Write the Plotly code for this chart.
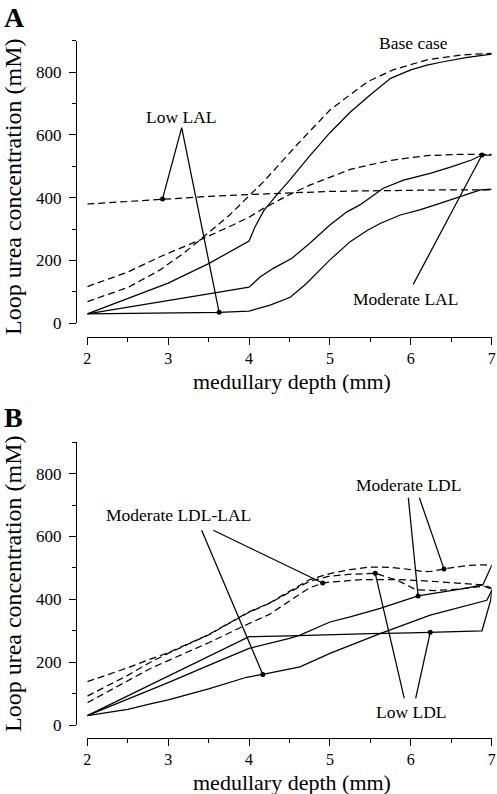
import plotly.graph_objects as go

# ---------------- Panel A data ----------------
a_base_solid_x = [2, 2.5, 3, 3.5, 3.76, 4.0, 4.07, 4.18, 4.34, 4.5, 4.75, 5.0, 5.25, 5.5, 5.75, 6.0, 6.2, 6.4, 6.7, 7.0]
a_base_solid_y = [30, 78, 128, 190, 228, 262, 305, 358, 408, 455, 533, 607, 672, 728, 780, 807, 822, 833, 847, 857]
a_base_dash_x = [2, 2.5, 2.9, 3.2, 3.39, 3.76, 4.0, 4.18, 4.59, 5.0, 5.25, 5.47, 5.78, 6.2, 6.61, 7.0]
a_base_dash_y = [69, 114, 170, 225, 265, 345, 406, 451, 568, 679, 728, 770, 807, 839, 854, 860]
a_mod_solid_x = [2, 2.5, 3, 3.5, 4.0, 4.14, 4.3, 4.53, 4.75, 5.0, 5.21, 5.37, 5.47, 5.66, 5.91, 6.0, 6.25, 6.5, 6.75, 6.88, 7.0]
a_mod_solid_y = [30, 52, 73, 94, 115, 148, 175, 207, 255, 313, 355, 377, 395, 430, 456, 462, 478, 498, 520, 536, 536]
a_mod_dash_x = [2, 2.5, 2.9, 3.39, 3.8, 4.0, 4.18, 4.5, 4.75, 5.0, 5.25, 5.5, 5.78, 6.2, 6.6, 7.0]
a_mod_dash_y = [117, 163, 212, 265, 313, 338, 366, 410, 440, 465, 490, 505, 520, 534, 538, 538]
a_low_solid_x = [2, 2.5, 3, 3.63, 4.0, 4.26, 4.51, 4.71, 5.0, 5.25, 5.47, 5.62, 5.87, 6.11, 6.36, 6.61, 6.86, 7.0]
a_low_solid_y = [30, 32, 33, 35, 39, 58, 83, 127, 202, 260, 297, 318, 345, 361, 382, 403, 425, 427]
a_low_dash_x = [2, 2.93, 3.5, 4.0, 4.5, 5.0, 5.5, 6.0, 6.5, 7.0]
a_low_dash_y = [380, 396, 404, 410, 416, 420, 422, 424, 425, 425]

# annotation leaders / dots (panel A)
a_dot_x = [2.93, 3.63, 6.88]
a_dot_y = [396, 35, 536]
a_lowlal_leader_x = [2.93, 3.167, 3.63]
a_lowlal_leader_y = [396, 623, 35]
a_modlal_leader_x = [6.03, 6.88]
a_modlal_leader_y = [124, 536]

# ---------------- Panel B data ----------------
b_lowldl_solid_x = [2, 2.5, 3, 3.5, 4.0, 4.5, 5.0, 5.5, 6.0, 6.24, 6.5, 6.88, 6.99, 7.0]
b_lowldl_solid_y = [30, 93, 156, 218, 281, 284, 288, 291, 293, 295, 297, 300, 400, 433]
b_modldl_solid_x = [2, 2.5, 2.78, 3, 3.5, 4.0, 4.5, 4.63, 5.0, 5.25, 5.62, 6.09, 6.65, 6.89, 7.0]
b_modldl_solid_y = [30, 82, 111, 135, 190, 244, 276, 286, 328, 344, 371, 411, 434, 446, 508]
b_ldllal_solid_x = [2, 2.5, 2.78, 3, 3.5, 3.97, 4.17, 4.63, 5.0, 5.25, 5.62, 6.24, 6.94, 7.0]
b_ldllal_solid_y = [30, 50, 67, 80, 115, 152, 161, 185, 228, 254, 291, 350, 397, 428]
b_modldl_dash_x = [2, 2.5, 2.78, 3, 3.5, 3.89, 4.0, 4.25, 4.5, 4.75, 5.0, 5.25, 5.5, 5.75, 6.0, 6.15, 6.25, 6.41, 6.7, 6.9, 7.0]
b_modldl_dash_y = [138, 182, 210, 230, 288, 344, 360, 388, 425, 463, 482, 495, 503, 502, 495, 488, 489, 497, 508, 510, 508]
b_lowldl_dash_x = [2, 2.5, 2.78, 3, 3.5, 3.89, 4.0, 4.25, 4.5, 4.75, 5.0, 5.25, 5.56, 5.83, 6.07, 6.3, 6.6, 6.9, 7.0]
b_lowldl_dash_y = [92, 158, 200, 228, 287, 343, 359, 387, 423, 458, 474, 480, 483, 461, 430, 428, 433, 442, 433]
b_ldllal_dash_x = [2, 2.5, 2.78, 3, 3.5, 4.0, 4.25, 4.5, 4.75, 4.92, 5.0, 5.41, 5.83, 6.24, 6.65, 6.9, 7.0]
b_ldllal_dash_y = [71, 140, 180, 205, 262, 323, 352, 395, 437, 452, 455, 463, 463, 458, 450, 446, 436]

b_dot_x = [4.17, 4.91, 6.09, 6.41, 5.56, 6.24]
b_dot_y = [161, 452, 411, 497, 483, 295]
b_ldllal_leader_x = [[3.414, 4.17], [3.558, 4.91]]
b_ldllal_leader_y = [[620, 161], [620, 452]]
b_modldl_leader_x = [[5.969, 6.09], [6.105, 6.41]]
b_modldl_leader_y = [[724, 411], [724, 497]]
b_lowldl_leader_x = [[5.919, 5.56], [6.06, 6.24]]
b_lowldl_leader_y = [[85, 483], [85, 295]]

x_ticks = [2, 3, 4, 5, 6, 7]
x_minor = [2.5, 3.5, 4.5, 5.5, 6.5]
y_ticks = [0, 200, 400, 600, 800]
y_minor = [100, 300, 500, 700, 900]

FONT = "Times New Roman, Liberation Serif, Tinos, DejaVu Serif, serif"
LW = 1.25
DASH = "7px,4px"

fig = go.Figure()

def add_line(x, y, dash, xa, ya):
    fig.add_trace(go.Scatter(x=x, y=y, mode="lines", xaxis=xa, yaxis=ya,
                             line=dict(color="black", width=LW, dash=dash),
                             hoverinfo="skip", showlegend=False, cliponaxis=False))

# Panel A
for xs, ys, d in [(a_base_solid_x, a_base_solid_y, "solid"), (a_base_dash_x, a_base_dash_y, DASH),
                  (a_mod_solid_x, a_mod_solid_y, "solid"), (a_mod_dash_x, a_mod_dash_y, DASH),
                  (a_low_solid_x, a_low_solid_y, "solid"), (a_low_dash_x, a_low_dash_y, DASH),
                  (a_lowlal_leader_x, a_lowlal_leader_y, "solid"), (a_modlal_leader_x, a_modlal_leader_y, "solid")]:
    add_line(xs, ys, d, "x", "y")
fig.add_trace(go.Scatter(x=a_dot_x, y=a_dot_y, mode="markers", xaxis="x", yaxis="y",
                         marker=dict(color="black", size=5), showlegend=False, hoverinfo="skip"))

# Panel B
for xs, ys, d in [(b_lowldl_solid_x, b_lowldl_solid_y, "solid"), (b_modldl_solid_x, b_modldl_solid_y, "solid"),
                  (b_ldllal_solid_x, b_ldllal_solid_y, "solid"), (b_modldl_dash_x, b_modldl_dash_y, DASH),
                  (b_lowldl_dash_x, b_lowldl_dash_y, DASH), (b_ldllal_dash_x, b_ldllal_dash_y, DASH)]:
    add_line(xs, ys, d, "x2", "y2")
for LX, LY in [(b_ldllal_leader_x, b_ldllal_leader_y), (b_modldl_leader_x, b_modldl_leader_y),
               (b_lowldl_leader_x, b_lowldl_leader_y)]:
    for xs, ys in zip(LX, LY):
        add_line(xs, ys, "solid", "x2", "y2")
fig.add_trace(go.Scatter(x=b_dot_x, y=b_dot_y, mode="markers", xaxis="x2", yaxis="y2",
                         marker=dict(color="black", size=5), showlegend=False, hoverinfo="skip"))

W, H = 497, 794
xdom = [87.3 / W, 491.7 / W]
ypos = 76 / W

def xaxis_cfg(pos):
    return dict(domain=xdom, range=[2, 7], anchor="free", position=pos, showline=True,
                linecolor="black", linewidth=1.3, ticks="outside", ticklen=7, tickwidth=1.3,
                tickcolor="black", tickmode="array", tickvals=x_ticks,
                ticktext=[str(v) for v in x_ticks],
                minor=dict(tickmode="array", tickvals=x_minor, ticks="outside", ticklen=4,
                           tickwidth=1.3, tickcolor="black"),
                showgrid=False, zeroline=False, automargin=False,
                tickfont=dict(family=FONT, size=16, color="black"))

def yaxis_cfg(dom):
    return dict(domain=dom, range=[0, 900], anchor="free", position=ypos, showline=True,
                linecolor="black", linewidth=1.3, ticks="outside", ticklen=7, tickwidth=1.3,
                tickcolor="black", tickmode="array", tickvals=y_ticks,
                ticktext=[str(v) for v in y_ticks],
                minor=dict(tickmode="array", tickvals=y_minor, ticks="outside", ticklen=4,
                           tickwidth=1.3, tickcolor="black"),
                showgrid=False, zeroline=False, automargin=False, ticklabelstandoff=4,
                tickfont=dict(family=FONT, size=17, color="black"))

fig.update_layout(
    width=W, height=H, margin=dict(l=0, r=0, t=0, b=0),
    paper_bgcolor="white", plot_bgcolor="white", showlegend=False,
    font=dict(family=FONT, color="black"),
    xaxis=xaxis_cfg(1 - 336.7 / H), yaxis=yaxis_cfg([1 - 323.3 / H, 1 - 40.7 / H]),
    xaxis2=xaxis_cfg(1 - 737.7 / H), yaxis2=yaxis_cfg([1 - 725 / H, 1 - 442.3 / H]),
)

ann = []
def txt(x, y, t, xref, yref, size=17.5, angle=0, bold=False):
    ann.append(dict(x=x, y=y, text=("<b>%s</b>" % t) if bold else t, xref=xref, yref=yref,
                    showarrow=False, xanchor="center", yanchor="middle", textangle=angle,
                    font=dict(family=FONT, size=size, color="black")))

# panel A labels
txt(6.027, 893, "Base case", "x", "y")
txt(3.159, 657, "Low LAL", "x", "y")
txt(5.928, 77, "Moderate LAL", "x", "y")
# panel B labels
txt(3.125, 668, "Moderate LDL-LAL", "x2", "y2")
txt(5.969, 765, "Moderate LDL", "x2", "y2")
txt(6.0, 42, "Low LDL", "x2", "y2")
# axis titles
for (yc, xc) in [(187, 381.7), (584, 782.5)]:
    txt(13 / W, 1 - yc / H, "Loop urea concentration (mM)", "paper", "paper", size=24, angle=-90)
    txt(292 / W, 1 - xc / H, "medullary depth (mm)", "paper", "paper", size=22)
# panel letters
txt(14 / W, 1 - 17 / H, "A", "paper", "paper", size=28, bold=True)
txt(13 / W, 1 - 417 / H, "B", "paper", "paper", size=28, bold=True)
fig.update_layout(annotations=ann)

fig.write_html("out.html", config={"displayModeBar": False},
               post_script="document.body.style.margin='0';document.body.style.padding='0';")
